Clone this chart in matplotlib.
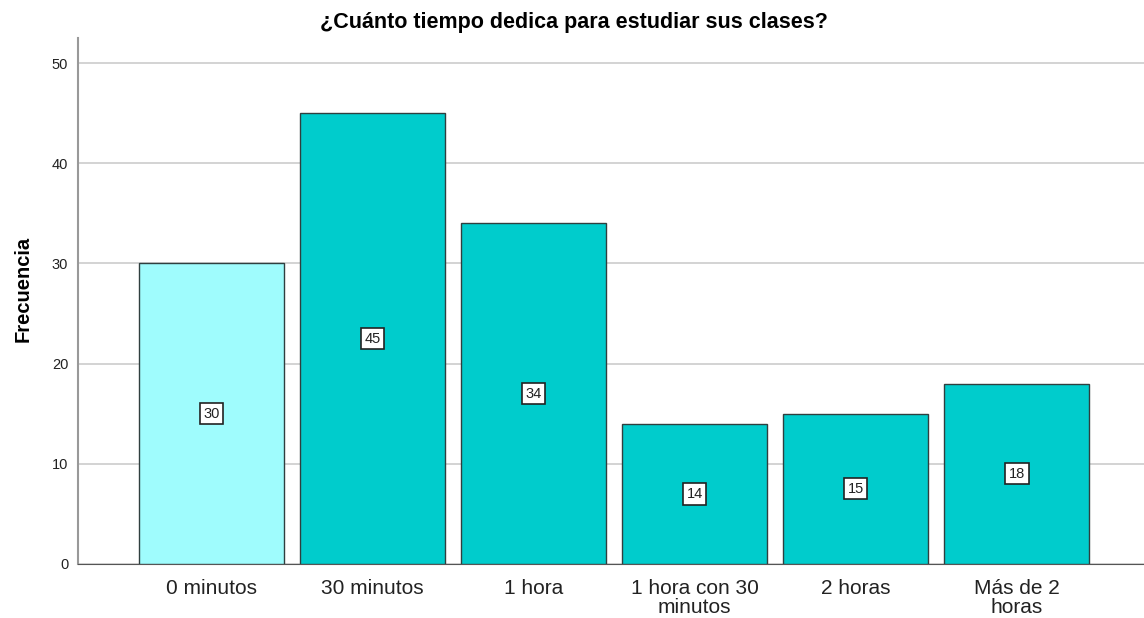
import matplotlib
matplotlib.use('Agg')
from matplotlib import pyplot as plt

categorias = ['0 minutos', '30 minutos', '1 hora', '1 hora con 30\nminutos', '2 horas', 'Más de 2\nhoras']
frecuencias = [30, 45, 34, 14, 15, 18]
colores = ['#9ffcfd', '#00cccc', '#00cccc', '#00cccc', '#00cccc', '#00cccc']

plt.rcParams['font.family'] = ['Liberation Sans', 'DejaVu Sans']

fig = plt.figure(figsize=(11.44, 6.18), dpi=100)
ax = fig.add_axes([0.0682, 0.0874, 0.9318, 0.8511])

x = list(range(len(categorias)))
ax.bar(x, frecuencias, width=0.9, color=colores, edgecolor='#2f3f3f', linewidth=1.0, zorder=3)

# etiquetas de valor en el centro de cada barra
for xi, v in zip(x, frecuencias):
    ax.text(xi, v / 2, str(v), ha='center', va='center', fontsize=10.5, zorder=4, color='#222222',
            bbox=dict(boxstyle='square,pad=0.25', facecolor='white', edgecolor='#222222', linewidth=1.2))

ax.set_xlim(-0.829, 5.79)
ax.set_ylim(0, 52.5)
ax.set_yticks([0, 10, 20, 30, 40, 50])
ax.set_xticks(x)
ax.set_xticklabels(categorias, fontsize=15, linespacing=1.0, color='#222222')
ax.tick_params(axis='y', length=0, labelsize=10.5, pad=7, labelcolor='#222222')
ax.tick_params(axis='x', length=0, pad=11)

ax.yaxis.grid(True, color='#cccccc', linewidth=1.2, zorder=0)
ax.set_axisbelow(True)

for s in ['top', 'right']:
    ax.spines[s].set_visible(False)
ax.spines['left'].set_color('#999999')
ax.spines['left'].set_linewidth(1.5)
ax.spines['bottom'].set_color('#555555')

ax.set_ylabel('Frecuencia', fontsize=14.5, fontweight='bold')
ax.yaxis.set_label_coords(-0.0422, 0.522)
fig.text(0.502, 0.964, '¿Cuánto tiempo dedica para estudiar sus clases?', ha='center', va='center',
         fontsize=15.5, fontweight='bold')

fig.savefig('out.png', dpi=100)
